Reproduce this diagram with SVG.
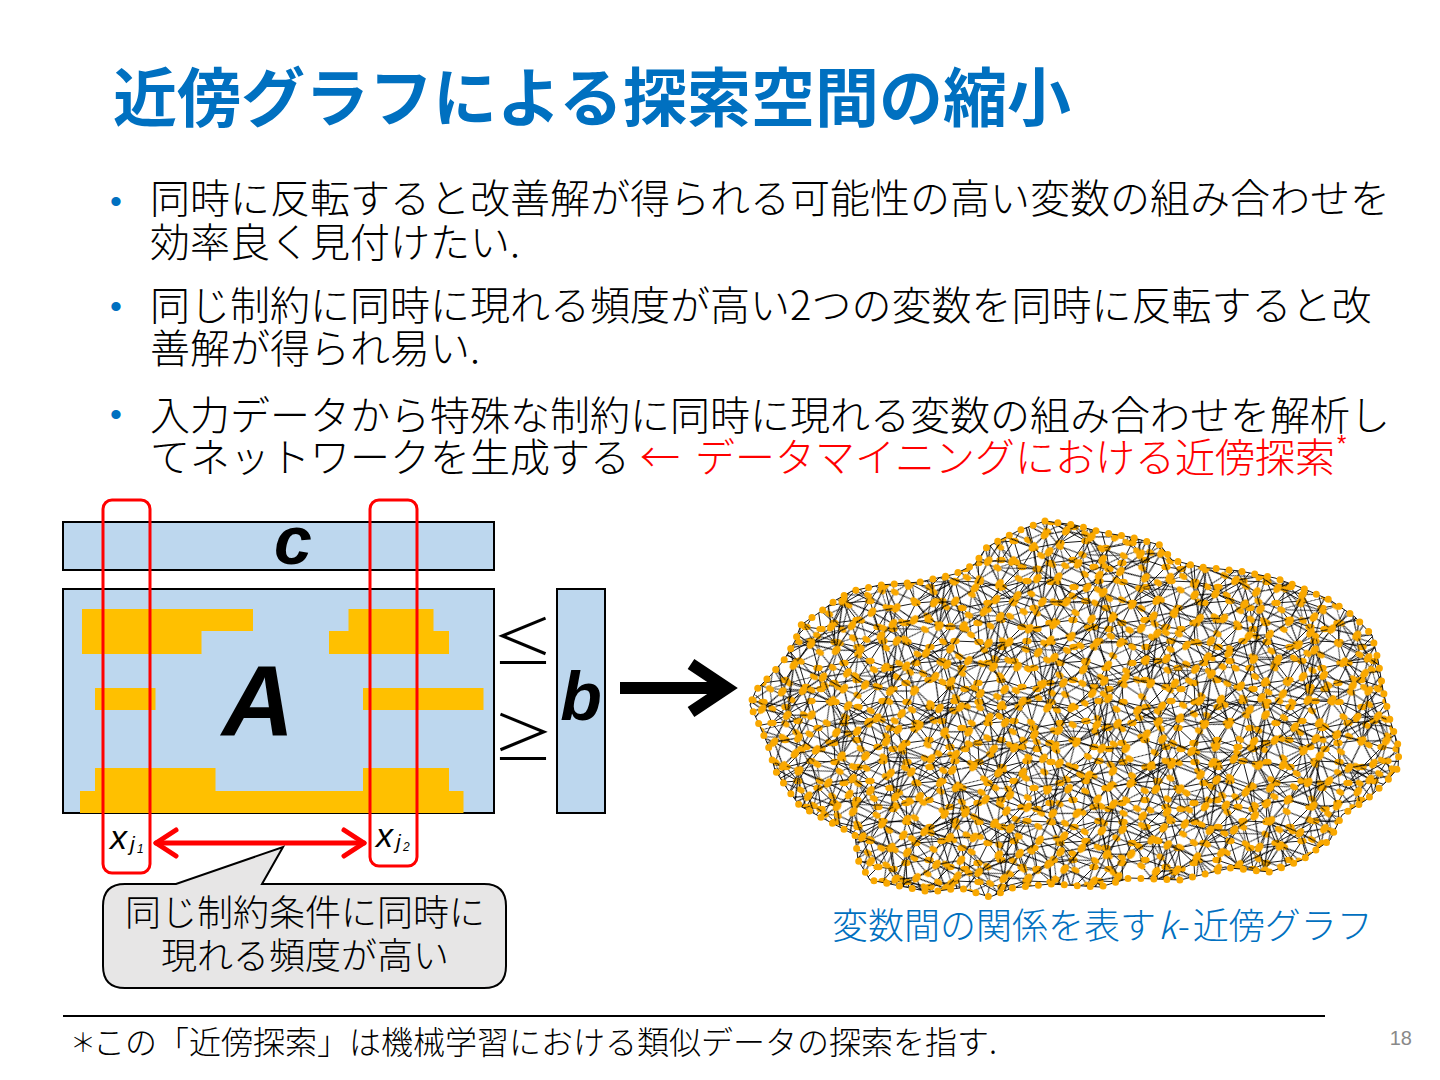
<svg xmlns="http://www.w3.org/2000/svg" xmlns:xlink="http://www.w3.org/1999/xlink" width="1440" height="1080" viewBox="0 0 1440 1080">
<style>
.jp{font-family:"Noto Sans CJK JP","Noto Sans",sans-serif}
.lat{font-family:"Liberation Sans",Arial,sans-serif}
.box{fill:#BDD7EE;stroke:#000;stroke-width:2}
.bar{fill:#FFC000}
.sel{fill:none;stroke:#FF0000;stroke-width:3}
.edge{fill:none;stroke:#000;stroke-width:0.9}
.node{fill:#F9A800}
</style>
<defs>
<g id="tile">
<path class="edge" d="M8 7L31 12M31 12L56 6M8 7L17 28M31 12L43 26M17 28L43 26M43 26L63 33M56 6L63 33M17 28L7 48M17 28L30 45M43 26L30 45M30 45L51 52M63 33L51 52M7 48L30 45M31 12L17 28M43 26L51 52M56 6L43 26M51 52L66 54M63 33L66 54M8 7L43 26M56 6L17 28M63 33L89 28M-9 33L17 28M56 6L80 7M-16 6L8 7M51 52L31 72M51 -8L31 12M7 48L8 67M7 -12L8 7M66 54L79 48M-6 54L7 48M66 54L56 66M66 -6L56 6M66 54L80 67M-6 -6L8 7M7 48L-9 33M79 48L63 33"/>
<g class="node">
<ellipse cx="8" cy="7" rx="4.7" ry="3.3"/><ellipse cx="31" cy="12" rx="4.7" ry="3.3"/><ellipse cx="56" cy="6" rx="4.7" ry="3.3"/><ellipse cx="17" cy="28" rx="4.7" ry="3.3"/><ellipse cx="43" cy="26" rx="4.7" ry="3.3"/><ellipse cx="63" cy="33" rx="4.7" ry="3.3"/><ellipse cx="7" cy="48" rx="4.7" ry="3.3"/><ellipse cx="30" cy="45" rx="4.7" ry="3.3"/><ellipse cx="51" cy="52" rx="4.7" ry="3.3"/><ellipse cx="66" cy="54" rx="4.7" ry="3.3"/>
</g>
</g>
<pattern id="p1" width="72" height="60" patternUnits="userSpaceOnUse" patternTransform="translate(755,515)"><use xlink:href="#tile" href="#tile"/></pattern>
<pattern id="p2" width="72" height="60" patternUnits="userSpaceOnUse" patternTransform="translate(770,530) rotate(31) scale(0.92)"><use xlink:href="#tile" href="#tile"/></pattern>
<pattern id="p3" width="72" height="60" patternUnits="userSpaceOnUse" patternTransform="translate(740,500) rotate(-53) scale(1.13)"><use xlink:href="#tile" href="#tile"/></pattern>
<path id="blob" d="M1045 521L1075 525L1100 532L1130 537L1160 545L1172 560L1200 567L1240 571L1275 578L1302 588L1330 600L1355 617L1372 635L1378 660L1383 690L1390 720L1399 748L1398 768L1386 782L1366 800L1342 815L1330 840L1302 860L1270 872L1230 868L1180 880L1130 878L1100 887L1050 884L1012 888L990 897L960 888L930 892L900 886L870 880L858 860L855 835L830 822L800 806L788 790L775 770L768 745L758 722L750 705L756 690L770 676L784 660L795 641L801 625L820 612L836 600L852 591L880 585L920 582L955 574L975 564L986 548L1000 540L1020 530Z"/>
</defs>
<rect width="1440" height="1080" fill="#fff"/>

<g id="title">
<text class="jp" x="113" y="121" font-size="64" font-weight="bold" fill="#0070C0">近傍グラフによる探索空間の縮小</text>
</g>

<g id="bullets">
<g class="lat" fill="#0070C0" font-size="34">
<text x="110" y="213">•</text>
<text x="110" y="318">•</text>
<text x="110" y="426">•</text>
</g>
<g class="jp" font-size="40" font-weight="300" fill="#000">
<text x="150" y="213">同時に反転すると改善解が得られる可能性の高い変数の組み合わせを</text>
<text x="150" y="257">効率良く見付けたい.</text>
<text x="150" y="320">同じ制約に同時に現れる頻度が高い2つの変数を同時に反転すると改</text>
<text x="150" y="363">善解が得られ易い.</text>
<text x="150" y="430">入力データから特殊な制約に同時に現れる変数の組み合わせを解析し</text>
<text x="150" y="472">てネットワークを生成する</text>
<text x="640" y="472" fill="#FF0000">←<tspan x="695">データマイニングにおける近傍探索</tspan></text>
</g>
<text class="lat" x="1337" y="452" font-size="24" fill="#FF0000">*</text>
</g>

<g id="vector-c">
<rect class="box" x="63" y="522" width="431" height="48"/>
<text class="lat" x="293" y="564" font-size="68" font-weight="bold" font-style="italic" text-anchor="middle">c</text>
</g>

<g id="matrix-A">
<rect class="box" x="63" y="589" width="431" height="224"/>
<path class="bar" d="M82 609H253V631H201.5V654H82Z"/>
<path class="bar" d="M348.5 609H433.5V631H449V654H329V631H348.5Z"/>
<rect class="bar" x="95" y="688" width="60.5" height="22"/>
<rect class="bar" x="363" y="688" width="120.5" height="22"/>
<path class="bar" d="M95 768H215.5V791H363V768H449V791H463.5V813H80V791H95Z"/>
<text class="lat" x="258" y="736" font-size="100" font-weight="bold" font-style="italic" text-anchor="middle">A</text>
</g>

<g id="inequalities">
<text class="jp" x="523" y="666" font-size="62" font-weight="300" text-anchor="middle">≤</text>
<text class="jp" x="523" y="762" font-size="62" font-weight="300" text-anchor="middle">≥</text>
</g>

<g id="vector-b">
<rect class="box" x="557" y="589" width="48" height="224"/>
<text class="lat" x="581" y="720" font-size="68" font-weight="bold" font-style="italic" text-anchor="middle">b</text>
</g>

<g id="column-x1">
<rect class="sel" x="103" y="500" width="47" height="373" rx="9"/>
<text class="lat" x="110" y="849" font-size="34" font-style="italic">x</text>
<text class="lat" x="130" y="851" font-size="21" font-style="italic">j</text>
<text class="lat" x="137" y="853" font-size="12" font-style="italic">1</text>
</g>

<g id="column-x2">
<rect class="sel" x="370" y="500" width="47" height="366" rx="9"/>
<text class="lat" x="376" y="847" font-size="34" font-style="italic">x</text>
<text class="lat" x="396" y="849" font-size="21" font-style="italic">j</text>
<text class="lat" x="403" y="851" font-size="12" font-style="italic">2</text>
</g>

<g id="connectors">
<g fill="none" stroke="#FF0000" stroke-width="5" stroke-linecap="round" stroke-linejoin="round">
<path d="M156 843H364"/>
<path d="M176 830L156 843L176 856"/>
<path d="M344 830L364 843L344 856"/>
</g>
<g fill="none" stroke="#000" stroke-width="12" stroke-linejoin="miter">
<path d="M620 688H722"/>
<path d="M691 664L727 688L691 712"/>
</g>
</g>

<g id="callout">
<path d="M125 884H176L283 847L262 884H484Q506 884 506 906V966Q506 988 484 988H125Q103 988 103 966V906Q103 884 125 884Z" fill="#E7E6E6" stroke="#000" stroke-width="2"/>
<text class="jp" x="305" y="926" font-size="36" font-weight="300" text-anchor="middle">同じ制約条件に同時に</text>
<text class="jp" x="305" y="969" font-size="36" font-weight="300" text-anchor="middle">現れる頻度が高い</text>
</g>

<g id="graph">
<use href="#blob" xlink:href="#blob" fill="url(#p1)"/>
<use href="#blob" xlink:href="#blob" fill="url(#p2)"/>
<use href="#blob" xlink:href="#blob" fill="url(#p3)"/>
<use href="#blob" xlink:href="#blob" fill="none" stroke="#000" stroke-width="0.9"/>
<use href="#blob" xlink:href="#blob" fill="none" stroke="#F9A800" stroke-width="7" stroke-dasharray="0 13" stroke-linecap="round"/>
</g>

<g id="caption">
<text class="jp" x="832" y="939" font-size="36" font-weight="300" fill="#0070C0">変数間の関係を表す<tspan font-style="italic" dx="2">k</tspan><tspan dx="1">-</tspan><tspan dx="3">近傍グラフ</tspan></text>
</g>

<g id="footer">
<line x1="63" y1="1016" x2="1325" y2="1016" stroke="#000" stroke-width="2"/>
<text class="jp" x="70" y="1052" font-size="26" font-weight="300">＊</text>
<text class="jp" x="93" y="1054" font-size="32" font-weight="300">この「近傍探索」は機械学習における類似データの探索を指す.</text>
<text class="lat" x="1412" y="1045" font-size="20" fill="#898989" text-anchor="end">18</text>
</g>
</svg>
